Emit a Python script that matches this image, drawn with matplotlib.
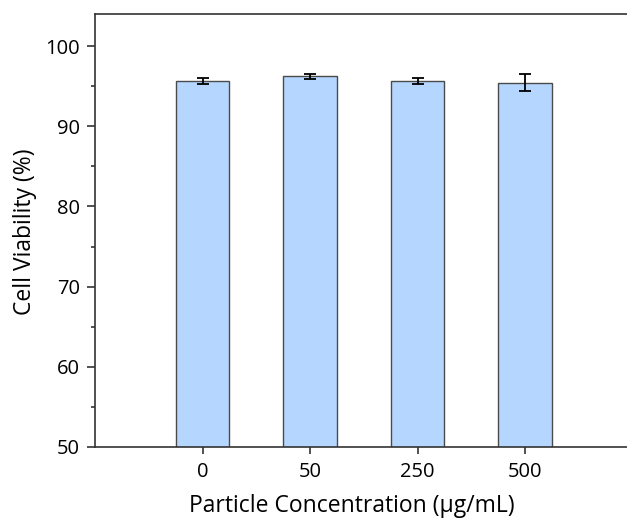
import matplotlib
matplotlib.use("Agg")
import matplotlib.pyplot as plt
from matplotlib.ticker import MultipleLocator

categories = ["0", "50", "250", "500"]
viability = [95.67, 96.22, 95.67, 95.42]
errors = [0.35, 0.3, 0.35, 1.06]

plt.rcParams['font.family'] = ['Open Sans', 'DejaVu Sans']

fig = plt.figure(figsize=(6.27, 5.2), dpi=100)
W, H = 627, 520
left, right, top, bottom = 95, 632.5, 14, 447
ax = fig.add_axes([left / W, 1 - bottom / H, (right - left) / W, (bottom - top) / H])

x = list(range(len(categories)))
ax.bar(x, viability, width=0.5, color="#b5d7ff", edgecolor="#4a4a4a", linewidth=1.0, zorder=2)
ax.errorbar(x, viability, yerr=errors, fmt="none", ecolor="black", elinewidth=1.3,
            capsize=4, capthick=1.3, zorder=3)

ax.set_xlim(-1, 4)
ax.set_ylim(50, 104)
ax.set_xticks(x)
ax.set_xticklabels(categories)
ax.yaxis.set_major_locator(MultipleLocator(10))
ax.yaxis.set_minor_locator(MultipleLocator(5))
ax.spines['right'].set_visible(False)
for s in ['left', 'bottom', 'top']:
    ax.spines[s].set_linewidth(1.2)
    ax.spines[s].set_color("#333333")
ax.tick_params(axis='x', which='major', direction='out', length=5, width=1.2, labelsize=14.5,
               color="#333333", pad=6)
ax.tick_params(axis='y', which='major', direction='out', length=6, width=1.2, labelsize=14.5,
               color="#333333", pad=5)
ax.tick_params(axis='y', which='minor', direction='out', length=3, width=1.2, color="#333333")
ax.set_ylabel("Cell Viability (%)", fontsize=16.5)
ax.set_xlabel("Particle Concentration (μg/mL)", fontsize=16.5)
ax.yaxis.set_label_coords((25 - left) / (right - left), (bottom - 232) / (bottom - top))
ax.yaxis.label.set_verticalalignment('center')
ax.xaxis.set_label_coords((352 - left) / (right - left), -(506 - bottom) / (bottom - top))
ax.xaxis.label.set_verticalalignment('center')

fig.savefig("out.png", dpi=100)
